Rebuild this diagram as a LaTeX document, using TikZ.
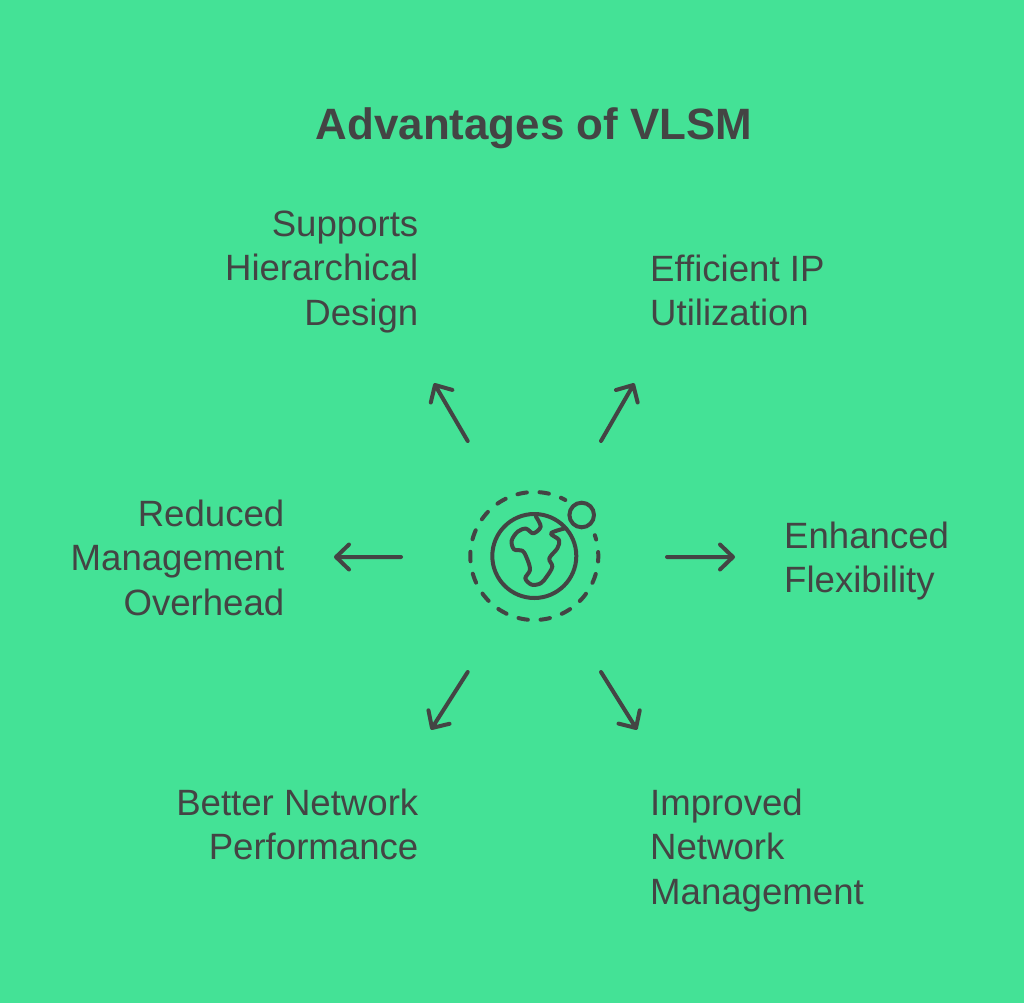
\documentclass[tikz,border=0pt]{standalone}
\usepackage{fontspec}
\setmainfont{Liberation Sans}
\usetikzlibrary{calc}
\definecolor{bgc}{RGB}{68,226,150}
\definecolor{ink}{RGB}{68,68,68}
\newcommand{\sr}{\strut}
\newcommand{\arw}[2]{\draw[conn] (#1) -- (#2) ($(#2)!13pt!(#1)!12.5pt!90:(#1)$) -- (#2) -- ($(#2)!13pt!(#1)!12.5pt!-90:(#1)$);}
\tikzset{
  lab/.style={text=ink,inner sep=0pt,font=\fontsize{36.6}{44.6}\selectfont},
  labr/.style={lab,align=right,anchor=north east},
  labl/.style={lab,align=left,anchor=north west},
  conn/.style={draw=ink,line width=4pt,line cap=round,line join=round},
  icon/.style={draw=ink,line width=4pt,line cap=round,line join=round}
}
\begin{document}
\begin{tikzpicture}[x=1pt,y=-1pt]
\fill[bgc] (0,0) rectangle (1024,1003);
\useasboundingbox (0,0) rectangle (1024,1003);
\node[text=ink,inner sep=0pt,font=\fontsize{43.9}{54}\selectfont\bfseries,anchor=base] (title) at (534,140) {Advantages of VLSM};
\node[labr] (hier) at (418.5,204.8) {\sr Supports\\\sr Hierarchical\\\sr Design};
\node[labl] (eff) at (650,249.8) {\sr Efficient IP\\\sr Utilization};
\node[labr] (red) at (284.5,494.8) {\sr Reduced\\\sr Management\\\sr Overhead};
\node[labl] (enh) at (784,516.8) {\sr Enhanced\\\sr Flexibility};
\node[labr] (perf) at (418.5,783.8) {\sr Better Network\\\sr Performance};
\node[labl] (mgmt) at (650,783.8) {\sr Improved\\\sr Network\\\sr Management};
% hub
\coordinate (hub) at (534.3,556);
\draw[icon] (hub) circle (42);
\draw[icon,dash pattern=on 5pt off 12.7pt on 9.5pt off 12.7pt on 9.5pt off 12.7pt on 9.5pt off 12.7pt on 9.5pt off 12.7pt on 9.5pt off 12.7pt on 9.5pt off 12.7pt on 9.5pt off 12.7pt on 9.5pt off 12.7pt on 9.5pt off 12.7pt on 9.5pt off 12.7pt on 9.5pt off 12.7pt on 9.5pt off 12.7pt on 9.5pt off 12.7pt on 9.5pt off 12.7pt on 9.5pt off 12.7pt]
  ([shift={(-61:64)}]hub) arc[start angle=-61,end angle=-379,radius=64];
\draw[icon] (581.7,515) circle (12.3);
\begin{scope}[shift={(450,470)},x=0.3333pt,y=-0.3333pt]
\draw[icon] plot[smooth,tension=0.55] coordinates {(258,140) (272,170) (250,190) (228,176) (203,185) (185,212) (192,238) (218,243) (232,268) (240,300) (226,325) (245,344) (272,340) (290,320) (307,290) (298,265) (322,235) (327,210) (303,190) (345,175)};
\end{scope}
% connectors
\coordinate (c1s) at (467.7,441); \coordinate (c1e) at (435,385);
\coordinate (c2s) at (601,441);   \coordinate (c2e) at (633.3,385);
\coordinate (c3s) at (401,557);   \coordinate (c3e) at (336,557);
\coordinate (c4s) at (667,557);   \coordinate (c4e) at (733,557);
\coordinate (c5s) at (467.7,672); \coordinate (c5e) at (432,728);
\coordinate (c6s) at (601,672);   \coordinate (c6e) at (636,728);
\arw{c1s}{c1e}
\arw{c2s}{c2e}
\arw{c3s}{c3e}
\arw{c4s}{c4e}
\arw{c5s}{c5e}
\arw{c6s}{c6e}
\end{tikzpicture}
\end{document}
